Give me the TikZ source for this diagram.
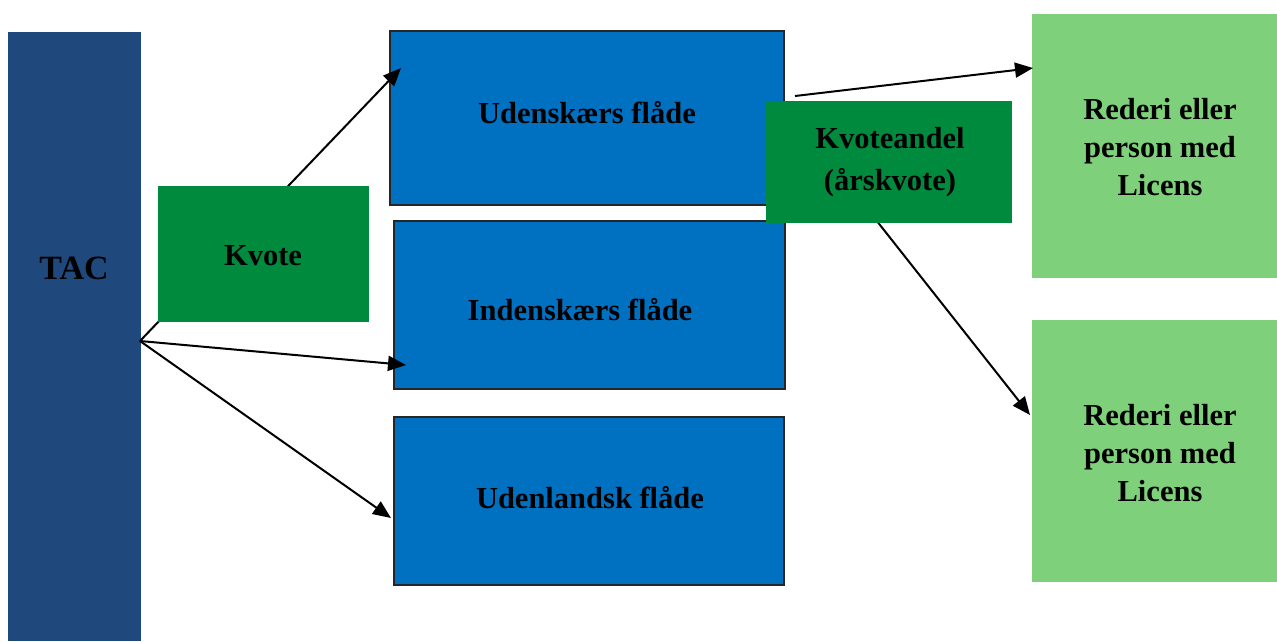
\documentclass[tikz,border=0pt]{standalone}
\usepackage{fontspec}
\setmainfont{Liberation Serif}
\usetikzlibrary{arrows.meta}
\definecolor{tacblue}{HTML}{1F497D}
\definecolor{fleetblue}{HTML}{0070C0}
\definecolor{darkgreen}{HTML}{008A3E}
\definecolor{lightgreen}{HTML}{7FD07A}
\tikzset{
  box/.style={rectangle, inner sep=0pt, outer sep=0pt, anchor=center},
  tacbox/.style={box, fill=tacblue},
  fleetbox/.style={box, fill=fleetblue, draw=black!85, line width=2pt},
  greenbox/.style={box, fill=darkgreen},
  lightbox/.style={box, fill=lightgreen},
  txt/.style={inner sep=0pt, align=center, font=\fontsize{30.5}{38}\selectfont\bfseries},
  conn/.style={line width=2pt, -{Triangle[length=18pt,width=15pt]}},
}
\begin{document}
\begin{tikzpicture}[x=1pt,y=-1pt]
\useasboundingbox (0,0) rectangle (1277,641);
% boxes
\node[tacbox, minimum width=133pt, minimum height=609pt] (tac) at (74.5,336.5) {};
\node[txt, font=\fontsize{34}{40}\selectfont\bfseries] (tactext) at (74,268) {TAC};
\node[fleetbox, minimum width=394pt, minimum height=174pt] (uden) at (587,117.5) {};
\node[txt] (udentext) at (587,113) {Udenskærs flåde};
\node[fleetbox, minimum width=391pt, minimum height=168pt] (inden) at (589.5,305) {};
\node[txt] (indentext) at (580,310) {Indenskærs flåde};
\node[fleetbox, minimum width=390pt, minimum height=168pt] (udl) at (589,500.5) {};
\node[txt] (udltext) at (590,498) {Udenlandsk flåde};
\node[lightbox, minimum width=245pt, minimum height=264pt] (red1) at (1154.5,146) {};
\node[txt] (red1text) at (1160,147) {Rederi eller\\person med\\Licens};
\node[lightbox, minimum width=245pt, minimum height=262pt] (red2) at (1154.5,451) {};
\node[txt] (red2text) at (1160,453) {Rederi eller\\person med\\Licens};
% connectors
\coordinate (tacout) at (140,341);
\coordinate (tipuden) at (401,68);
\coordinate (tipinden) at (406,365);
\coordinate (tipudl) at (391,518);
\coordinate (kaout) at (795,96);
\coordinate (tipred1) at (1033,68);
\coordinate (kain) at (850,187);
\coordinate (tipred2) at (1030,415);
\draw[conn] (tacout) -- (tipuden);
\draw[conn] (tacout) -- (tipinden);
\draw[conn] (tacout) -- (tipudl);
\draw[conn] (kaout) -- (tipred1);
\draw[conn] (kain) -- (tipred2);
% overlaying green boxes
\node[greenbox, minimum width=211pt, minimum height=136pt] (kvote) at (263.5,254) {};
\node[txt] (kvotetext) at (263,256) {Kvote};
\node[greenbox, minimum width=246pt, minimum height=122pt] (ka) at (889,162) {};
\node[txt, font=\fontsize{30.5}{42}\selectfont\bfseries] (katext) at (890,162) {Kvoteandel\\(årskvote)};
\end{tikzpicture}
\end{document}
